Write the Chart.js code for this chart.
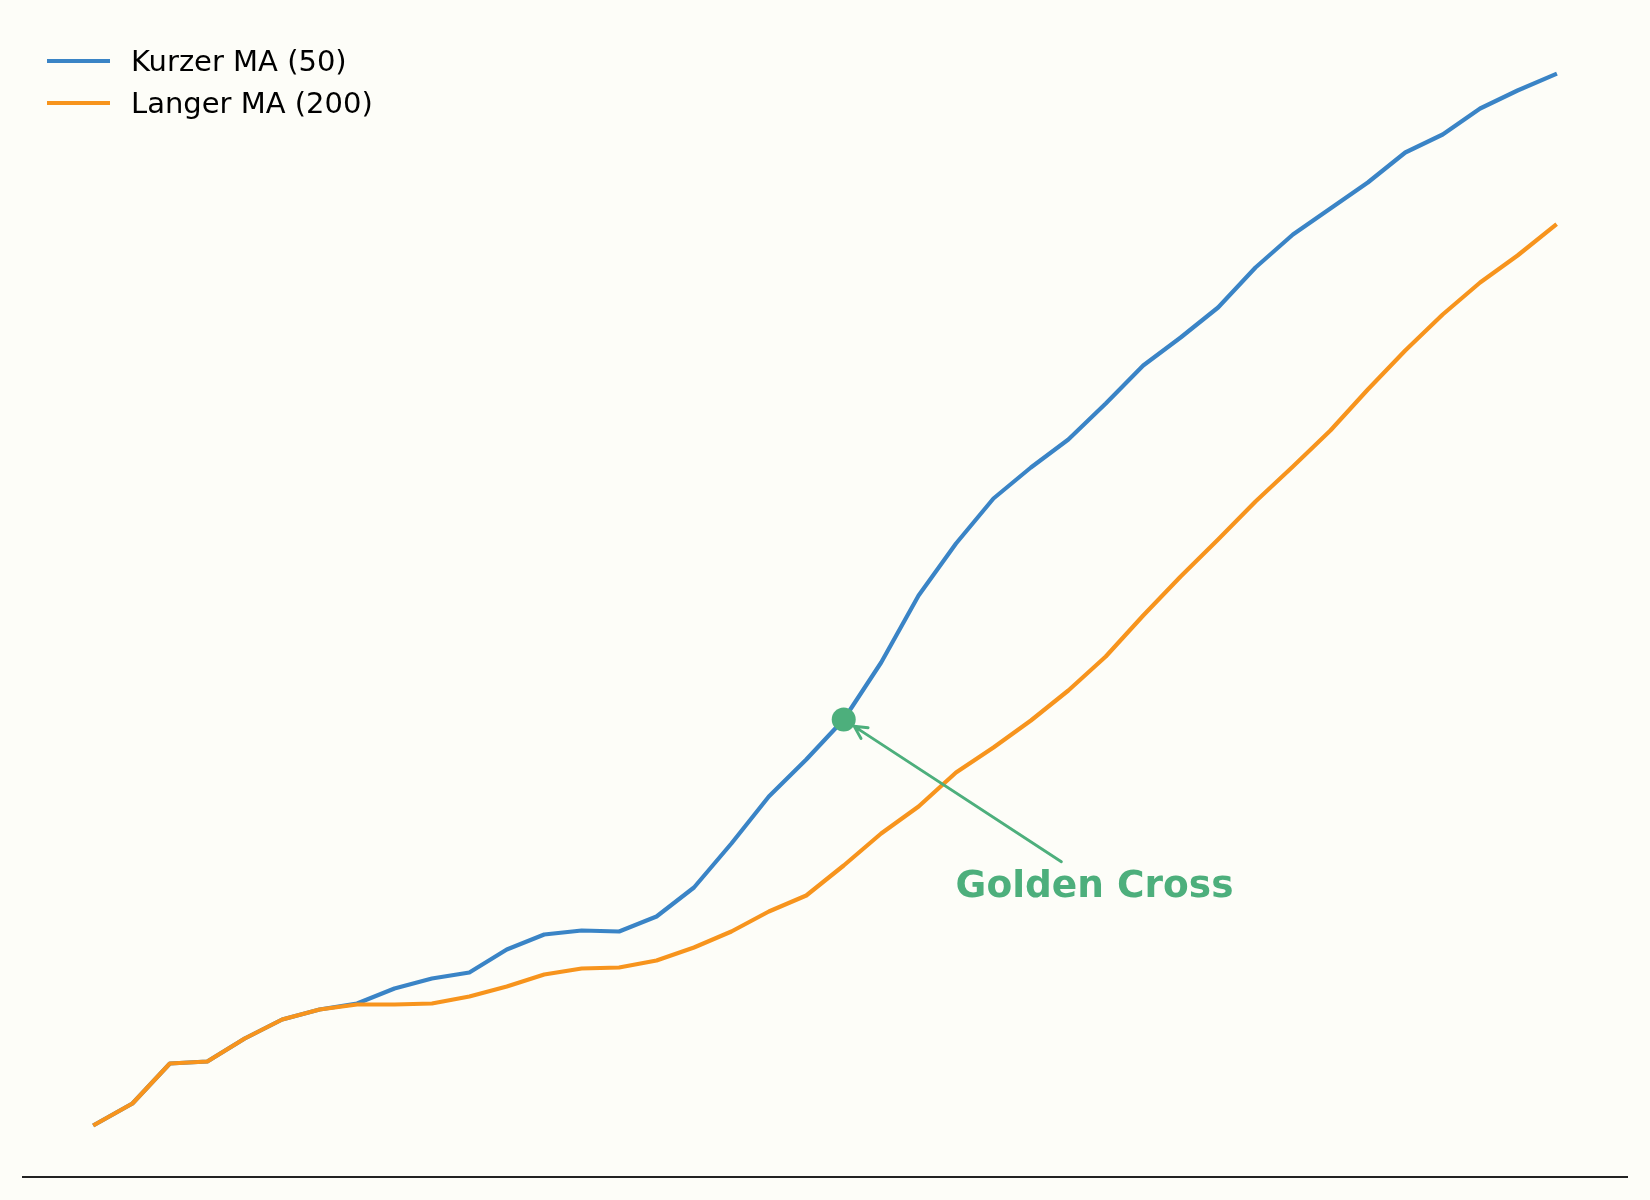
<!DOCTYPE html>
<html lang="de">
<head>
<meta charset="utf-8">
<title>Golden Cross</title>
<script src="https://cdn.jsdelivr.net/npm/chart.js@4.4.1/dist/chart.umd.min.js"></script>
<style>
  html, body { margin: 0; padding: 0; background: #fdfdf8; }
  #wrap { position: relative; width: 1650px; height: 1200px; }
  #chart { display: block; width: 1650px; height: 1200px; }
  #legend {
    position: absolute; left: 47px; top: 40px;
    font-family: 'DejaVu Sans', sans-serif; font-size: 29px; color: #000;
  }
  .row { display: flex; align-items: center; height: 42px; line-height: 42px; white-space: nowrap; }
  .swatch { width: 63px; height: 4.5px; margin-right: 21px; }
</style>
</head>
<body>
<div id="wrap">
  <canvas id="chart" width="1650" height="1200"></canvas>
  <div id="legend"></div>
</div>
<script>
// trading days
const days = [0, 1, 2, 3, 4, 5, 6, 7, 8, 9,
              10, 11, 12, 13, 14, 15, 16, 17, 18, 19,
              20, 21, 22, 23, 24, 25, 26, 27, 28, 29,
              30, 31, 32, 33, 34, 35, 36, 37, 38, 39];

// Kurzer MA (50)
const shortMA = [100.0, 102.1, 106.1, 106.3, 108.6, 110.5, 111.5, 112.1, 113.6, 114.6,
                 115.2, 117.5, 119.0, 119.4, 119.3, 120.8, 123.7, 128.1, 132.8, 136.5,
                 140.5, 146.2, 152.9, 158.1, 162.6, 165.7, 168.5, 172.1, 175.9, 178.7,
                 181.7, 185.7, 189.0, 191.6, 194.2, 197.2, 199.0, 201.6, 203.4, 205.0];

// Langer MA (200)
const longMA = [100.0, 102.1, 106.1, 106.3, 108.6, 110.5, 111.5, 112.0, 112.0, 112.1,
                112.8, 113.8, 115.0, 115.6, 115.7, 116.4, 117.7, 119.3, 121.3, 122.9,
                125.9, 129.1, 131.8, 135.2, 137.7, 140.4, 143.4, 146.8, 150.9, 154.8,
                158.5, 162.3, 165.8, 169.4, 173.5, 177.4, 181.0, 184.2, 186.9, 189.9];

const seriesNames = ['Kurzer MA (50)', 'Langer MA (200)'];
const seriesColors = ['#3a84c6', '#f7941d'];

// annotation: marked day and label position (day, price)
const crossIndex = 20;
const noteText = 'Golden Cross';
const noteAt = [26.7, 124.1];
const noteColor = '#4daf7c';

const allVals = shortMA.concat(longMA);
const yLo = Math.min(...allVals), yHi = Math.max(...allVals);
const yPad = (yHi - yLo) * 0.05;
const xPad = (days[days.length - 1] - days[0]) * 0.05;

function pts(vals) {
    return vals.map(function(v, i) { return {x: days[i], y: v}; });
}

const notePlugin = {
    id: 'noteLayer',
    beforeDatasetsDraw(chart) {
        const ctx = chart.ctx, a = chart.chartArea;
        ctx.save();
        ctx.strokeStyle = '#222';
        ctx.lineWidth = 2;
        ctx.beginPath();
        ctx.moveTo(a.left, a.bottom);
        ctx.lineTo(a.right, a.bottom);
        ctx.stroke();
        ctx.restore();
    },
    afterDatasetsDraw(chart) {
        const ctx = chart.ctx;
        const xs = chart.scales.x, ys = chart.scales.y;
        const px = xs.getPixelForValue(days[crossIndex]);
        const py = ys.getPixelForValue(shortMA[crossIndex]);
        const tx = xs.getPixelForValue(noteAt[0]);
        const ty = ys.getPixelForValue(noteAt[1]);
        const fs = 37.5;

        ctx.save();
        // text
        ctx.font = 'bold ' + fs + 'px "DejaVu Sans", sans-serif';
        ctx.fillStyle = noteColor;
        ctx.textAlign = 'center';
        ctx.textBaseline = 'alphabetic';
        ctx.fillText(noteText, tx, ty + 0.365 * fs);

        // arrow from above the text to the dot
        const sy = ty - 0.365 * fs - 8;
        const t = (ty - sy) / (ty - py);
        const sx = tx + (px - tx) * t;
        const len = Math.hypot(tx - px, ty - py);
        const ux = (tx - px) / len, uy = (ty - py) / len;
        const ex = px + ux * 12.5, ey = py + uy * 12.5;
        const ang = Math.atan2(sy - ey, sx - ex);

        ctx.strokeStyle = noteColor;
        ctx.lineWidth = 2.9;
        ctx.lineCap = 'round';
        ctx.beginPath();
        ctx.moveTo(sx, sy);
        ctx.lineTo(ex, ey);
        ctx.moveTo(ex + 14 * Math.cos(ang - 0.48), ey + 14 * Math.sin(ang - 0.48));
        ctx.lineTo(ex, ey);
        ctx.lineTo(ex + 14 * Math.cos(ang + 0.48), ey + 14 * Math.sin(ang + 0.48));
        ctx.stroke();
        ctx.restore();
    }
};

const chart = new Chart(document.getElementById('chart'), {
    type: 'line',
    data: {
        datasets: [
            {
                label: seriesNames[0],
                data: pts(shortMA),
                borderColor: seriesColors[0],
                backgroundColor: seriesColors[0],
                borderWidth: 4.2,
                borderCapStyle: 'square',
                borderJoinStyle: 'round',
                pointRadius: 0,
                tension: 0,
                order: 2
            },
            {
                label: seriesNames[1],
                data: pts(longMA),
                borderColor: seriesColors[1],
                backgroundColor: seriesColors[1],
                borderWidth: 4.2,
                borderCapStyle: 'square',
                borderJoinStyle: 'round',
                pointRadius: 0,
                tension: 0,
                order: 1
            },
            {
                data: [{x: days[crossIndex], y: shortMA[crossIndex]}],
                showLine: false,
                pointRadius: 12,
                pointBorderWidth: 0,
                pointBackgroundColor: noteColor,
                order: 0
            }
        ]
    },
    options: {
        responsive: false,
        animation: false,
        events: [],
        layout: { padding: { left: 22, right: 22, top: 22, bottom: 23 } },
        scales: {
            x: { type: 'linear', display: false, min: days[0] - xPad, max: days[days.length - 1] + xPad },
            y: { type: 'linear', display: false, min: yLo - yPad, max: yHi + yPad }
        },
        plugins: {
            legend: { display: false },
            tooltip: { enabled: false }
        }
    },
    plugins: [notePlugin]
});

// legend
var html = '';
chart.data.datasets.forEach(function(ds) {
    if (!ds.label) return;
    html += '<div class="row"><span class="swatch" style="background:' + ds.borderColor + '"></span>' + ds.label + '</div>';
});
document.getElementById('legend').innerHTML = html;
</script>
</body>
</html>
